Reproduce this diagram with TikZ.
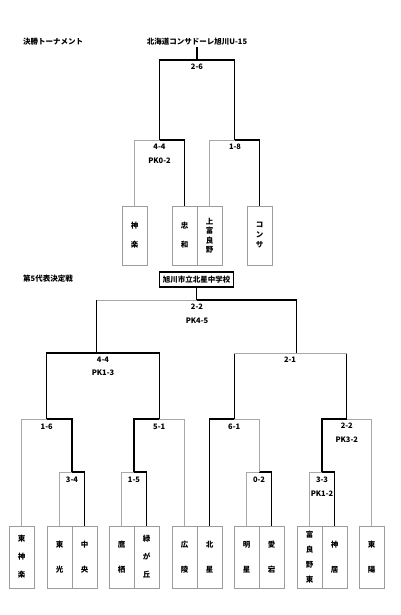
\documentclass[tikz,border=0pt]{standalone}
\usepackage{fontspec}
\newfontfamily\jp{Noto Sans CJK JP}
\definecolor{loss}{HTML}{A8A8A8}
\definecolor{boxline}{HTML}{9C9C9C}

\begin{document}
\begin{tikzpicture}[x=1pt,y=-1pt,
    font=\jp\bfseries\fontsize{7.5}{9}\selectfont,
    inner sep=1pt,
    team/.style={draw=boxline,line width=0.8pt,minimum width=25pt,minimum height=59pt,
      inner sep=0pt,align=center,font=\jp\bfseries\fontsize{7.5}{#1}\selectfont},
    lowteam/.style={team=#1,minimum height=62pt},
    score/.style={align=center,font=\jp\bfseries\fontsize{7.5}{13.5}\selectfont},
    fifthbox/.style={draw,line width=1.2pt,minimum width=74pt,minimum height=15pt,inner sep=0pt},
    win/.style={line width=1.1pt,draw=black},
    lose/.style={line width=0.7pt,draw=loss}
  ]
  \useasboundingbox (0,0) rectangle (400,615);

  % final tournament
  \node[anchor=west] (title1) at (22,42) {決勝トーナメント};
  \node (champ) at (197,42) {北海道コンサドーレ旭川U-15};
  \node[team=19] (kagura) at (134.5,235.5) {神\\楽};
  \node[team=19] (chuwa) at (184.5,235.5) {忠\\和};
  \node[team=9.4] (kamifurano) at (209.5,235.5) {上\\富\\良\\野};
  \node[team=10] (consa) at (259.5,235.5) {コ\\ン\\サ};
  \coordinate (sfa) at (159.5,140);
  \coordinate (sfb) at (234.5,140);
  \coordinate (fin) at (197,60);
  \draw[lose] (kagura.north) |- (sfa);
  \draw[win] (chuwa.north) |- (sfa);
  \draw[lose] (kamifurano.north) |- (sfb);
  \draw[win] (consa.north) |- (sfb);
  \draw[win] (sfa) |- (fin);
  \draw[win] (sfb) |- (fin);
  \draw[win] (fin) -- (champ.south);
  \node[score] (r26) at (197,67) {2-6};
  \node[score] (r44) at (159.5,154) {4-4\\PK0-2};
  \node[score] (r18) at (235,147) {1-8};

  % 5th place decider
  \node[anchor=west] (title2) at (22,279) {第5代表決定戦};
  \node[fifthbox] (fifth) at (196.5,279.5) {旭川市立北星中学校};
  \node[lowteam=18] (higashikagura) at (21.5,557) {東\\神\\楽};
  \node[lowteam=25] (toko) at (59.5,557) {東\\光};
  \node[lowteam=25] (chuo) at (84.5,557) {中\\央};
  \node[lowteam=25] (takasu) at (121.5,557) {鷹\\栖};
  \node[lowteam=18] (midori) at (146.5,557) {緑\\が\\丘};
  \node[lowteam=25] (koryo) at (184.5,557) {広\\陵};
  \node[lowteam=25] (hokusei) at (209.5,557) {北\\星};
  \node[lowteam=25] (meisei) at (246.5,557) {明\\星};
  \node[lowteam=25] (atago) at (271.5,557) {愛\\宕};
  \node[lowteam=15] (furanohigashi) at (309.5,557) {富\\良\\野\\東};
  \node[lowteam=25] (kamui) at (334.5,557) {神\\居};
  \node[lowteam=25] (toyo) at (371.5,557) {東\\陽};

  \coordinate (r1a) at (72,472);
  \coordinate (r1b) at (134,472);
  \coordinate (r1c) at (259,472);
  \coordinate (r1d) at (322,472);
  \coordinate (qf1) at (46.75,419);
  \coordinate (qf2) at (159.25,419);
  \coordinate (qf3) at (234.25,419);
  \coordinate (qf4) at (346.75,419);
  \coordinate (sfc) at (96.7,353);
  \coordinate (sfd) at (296.7,353);
  \coordinate (fin2) at (196.5,300);

  \draw[lose] (toko.north) |- (r1a);
  \draw[win] (chuo.north) |- (r1a);
  \draw[lose] (takasu.north) |- (r1b);
  \draw[win] (midori.north) |- (r1b);
  \draw[lose] (meisei.north) |- (r1c);
  \draw[win] (atago.north) |- (r1c);
  \draw[lose] (furanohigashi.north) |- (r1d);
  \draw[win] (kamui.north) |- (r1d);

  \draw[lose] (higashikagura.north) |- (qf1);
  \draw[win] (r1a) |- (qf1);
  \draw[win] (r1b) |- (qf2);
  \draw[lose] (koryo.north) |- (qf2);
  \draw[win] (hokusei.north) |- (qf3);
  \draw[lose] (r1c) |- (qf3);
  \draw[win] (r1d) |- (qf4);
  \draw[lose] (toyo.north) |- (qf4);

  \draw[win] (qf1) |- (sfc);
  \draw[win] (qf2) |- (sfc);
  \draw[win] (qf3) -- (qf3 |- sfd);
  \draw[win] (qf4) -- (qf4 |- sfd);
  \draw[lose] (qf3 |- sfd) -- (qf4 |- sfd);

  \draw[win] (sfc) -- (sfc |- fin2);
  \draw[lose] (sfc |- fin2) -- (fin2);
  \draw[win] (sfd) |- (fin2);
  \draw[win] (fin2) -- (fifth.south);

  \node[score] (r22) at (197,314) {2-2\\PK4-5};
  \node[score] (r44b) at (103,366.5) {4-4\\PK1-3};
  \node[score] (r21) at (290,360) {2-1};
  \node[score] (r16) at (46.75,426.5) {1-6};
  \node[score] (r34) at (72,480) {3-4};
  \node[score] (r51) at (159.25,426.5) {5-1};
  \node[score] (r15) at (134,480) {1-5};
  \node[score] (r61) at (234.25,426.5) {6-1};
  \node[score] (r02) at (259,480) {0-2};
  \node[score] (r22b) at (346.75,433) {2-2\\PK3-2};
  \node[score] (r33) at (322,486.5) {3-3\\PK1-2};
\end{tikzpicture}
\end{document}
